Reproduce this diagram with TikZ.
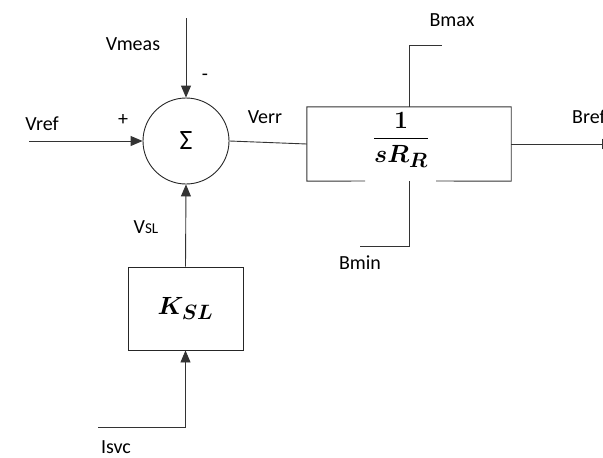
\documentclass[tikz,border=0pt]{standalone}
\usepackage{amsmath}
\usepackage{bm}
\usepackage{fontspec}
\setmainfont{Carlito}
\usetikzlibrary{arrows.meta}
\begin{document}
\begin{tikzpicture}[x=1pt,y=1pt,
  line/.style={draw=black!80,line width=0.9pt},
  arr/.style={line,-{Triangle[length=12pt,width=10pt]}},
  lbl/.style={font=\fontsize{20}{24}\selectfont,inner sep=0pt},
  blk/.style={draw=black!85,line width=0.9pt,minimum width=#1,inner sep=0pt}]
\useasboundingbox (0,0) rectangle (603,-458);
% summing junction
\node[circle,draw=black!85,line width=0.9pt,minimum size=86pt,inner sep=0pt,font=\fontsize{28}{32}\selectfont] (sum) at (186,-141) {Σ};
% integrator block
\node[minimum width=204pt,minimum height=74pt,inner sep=0pt] (integ) at (409,-144) {};
\node[inner sep=0pt,font=\fontsize{29}{33}\selectfont] (frac) at (401,-140) {$\displaystyle\frac{\bm{1}}{\bm{sR_R}}$};
\draw[line] (365,-181) -- (integ.south west) -- (integ.north west) -- (integ.north east) -- (integ.south east) -- (436,-181);
% gain block
\node[blk=115pt,minimum height=83pt,font=\fontsize{30}{34}\selectfont] (ksl) at (185.5,-308.5) {$\bm{K_{SL}}$};
% coordinates
\coordinate (vmeas) at (186,-18);
\coordinate (vref) at (29,-141);
\coordinate (isvc0) at (98,-427);
\coordinate (isvc1) at (ksl.south |- isvc0);
\coordinate (bmax1) at (integ.north |- 0,-45);
\coordinate (bmax2) at (442,-45);
\coordinate (bmin1) at (integ.south |- 0,-246);
\coordinate (bmin2) at (360,-246);
\coordinate (bref) at (614,-144);
% connectors
\draw[arr] (vmeas) -- (sum.north);
\draw[arr] (vref) -- (sum.west);
\draw[line] (sum.east) -- (integ.west);
\draw[arr] (ksl.north) -- (sum.south);
\draw[arr] (isvc0) -- (isvc1) -- (ksl.south);
\draw[line] (integ.north) -- (bmax1) -- (bmax2);
\draw[line] (integ.south) -- (bmin1) -- (bmin2);
\draw[arr] (integ.east) -- (bref);
% labels
\node[lbl] (l1) at (133,-44) {Vmeas};
\node[lbl] (l2) at (205,-77) {-};
\node[lbl] (l3) at (42,-124) {Vref};
\node[lbl] (l4) at (123,-120) {+};
\node[lbl] (l5) at (265,-117) {Verr};
\node[lbl] (l6) at (146,-227) {V{\fontsize{15}{18}\selectfont SL}};
\node[lbl] (l7) at (452,-20) {Bmax};
\node[lbl] (l8) at (360,-263) {Bmin};
\node[lbl,anchor=west] (l9) at (572,-117) {Bref};
\node[lbl] (l10) at (116,-447) {Isvc};
\end{tikzpicture}
\end{document}
